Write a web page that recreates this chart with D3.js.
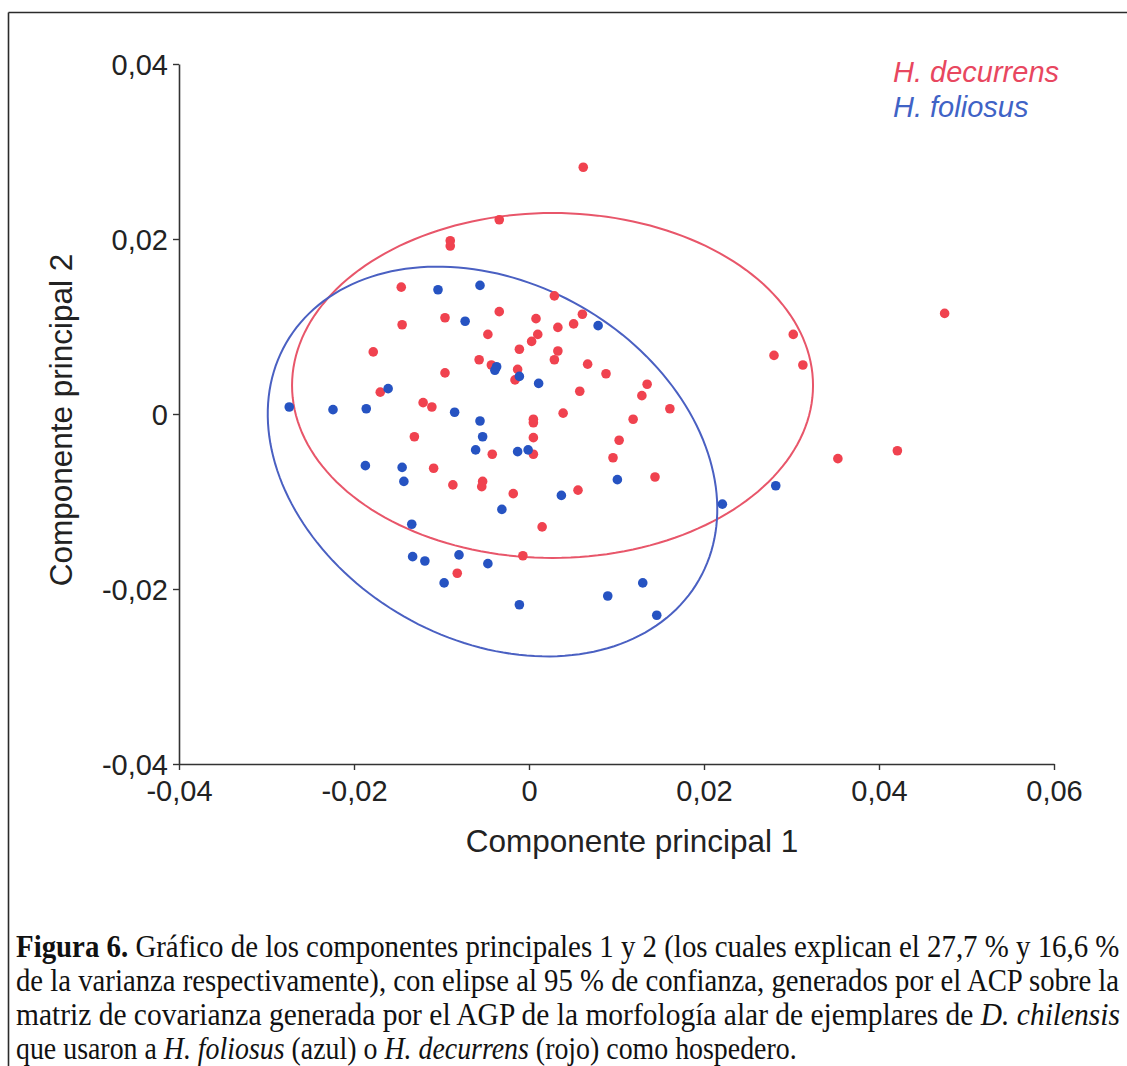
<!DOCTYPE html>
<html><head><meta charset="utf-8">
<script src="https://cdn.jsdelivr.net/npm/d3@7"></script>
<style>html,body{margin:0;padding:0;background:#fff;}svg{display:block;}</style>
</head><body>
<svg id="chart" width="1127" height="1066"></svg>
<script>
// ---- data ----
const xTicks = [-0.04, -0.02, 0, 0.02, 0.04, 0.06];
const yTicks = [-0.04, -0.02, 0, 0.02, 0.04];
const xTickLabels = ["-0,04", "-0,02", "0", "0,02", "0,04", "0,06"];
const yTickLabels = ["-0,04", "-0,02", "0", "0,02", "0,04"];
const seriesNames = ["H. decurrens", "H. foliosus"];

const decurrens = [
  [0.0062,0.0282],[-0.0034,0.0222],[-0.0090,0.0198],[-0.0090,0.0192],[-0.0146,0.0145],
  [0.0029,0.0135],[-0.0034,0.0117],[-0.0096,0.0110],[0.0008,0.0109],[0.0061,0.0114],
  [0.0051,0.0103],[0.0033,0.0099],[-0.0145,0.0102],[-0.0047,0.0091],[0.0010,0.0091],
  [0.0003,0.0083],[-0.0178,0.0071],[-0.0011,0.0074],[0.0033,0.0072],[0.0029,0.0062],
  [-0.0057,0.0062],[0.0067,0.0057],[-0.0043,0.0056],[-0.0013,0.0051],[-0.0096,0.0047],
  [-0.0016,0.0039],[0.0058,0.0026],[-0.0170,0.0025],[-0.0121,0.0013],[-0.0111,0.0008],
  [0.0039,0.0001],[0.0005,-0.0006],[0.0005,-0.0010],[0.0088,0.0046],[0.0135,0.0034],
  [0.0129,0.0021],[0.0161,0.0006],[0.0119,-0.0006],[0.0103,-0.0030],[0.0302,0.0091],
  [0.0280,0.0067],[0.0313,0.0056],[0.0475,0.0115],[0.0353,-0.0051],[0.0421,-0.0042],
  [-0.0131,-0.0026],[0.0005,-0.0027],[-0.0042,-0.0046],[0.0005,-0.0046],[-0.0109,-0.0062],
  [-0.0087,-0.0081],[-0.0053,-0.0077],[-0.0054,-0.0083],[-0.0018,-0.0091],[0.0056,-0.0087],
  [0.0015,-0.0129],[-0.0007,-0.0162],[-0.0082,-0.0182],[0.0096,-0.0050],[0.0144,-0.0072]
];
const foliosus = [
  [-0.0104,0.0142],[-0.0056,0.0147],[-0.0073,0.0106],[0.0079,0.0101],[-0.0037,0.0054],
  [-0.0039,0.0050],[-0.0011,0.0043],[0.0011,0.0035],[-0.0161,0.0029],[-0.0274,0.0008],
  [-0.0224,0.0005],[-0.0186,0.0006],[-0.0085,0.0002],[-0.0056,-0.0008],[-0.0053,-0.0026],
  [-0.0061,-0.0041],[-0.0013,-0.0043],[-0.0001,-0.0041],[-0.0187,-0.0059],[-0.0145,-0.0061],
  [-0.0143,-0.0077],[0.0037,-0.0093],[-0.0031,-0.0109],[-0.0134,-0.0126],[-0.0133,-0.0163],
  [-0.0119,-0.0168],[-0.0080,-0.0161],[-0.0047,-0.0171],[-0.0097,-0.0193],[-0.0011,-0.0218],
  [0.0101,-0.0075],[0.0221,-0.0103],[0.0282,-0.0082],[0.0130,-0.0193],[0.0090,-0.0208],
  [0.0146,-0.0230]
];
// 95% ellipses: [centerX, centerY, semiMajor, semiMinor, angleDeg]
const ellipseDecurrens = [0.00269, 0.00326, 0.02977, 0.01971, 0];
const ellipseFoliosus  = [-0.00417, -0.00543, 0.0272, 0.0204, -29.8];

const captionLines = [
  [["Figura 6.","b"],[" Gráfico de los componentes principales 1 y 2 (los cuales explican el 27,7 % y 16,6 %","n"]],
  [["de la varianza respectivamente), con elipse al 95 % de confianza, generados por el ACP sobre la","n"]],
  [["matriz de covarianza generada por el AGP de la morfología alar de ejemplares de ","n"],["D. chilensis","i"]],
  [["que usaron a ","n"],["H. foliosus","i"],[" (azul) o ","n"],["H. decurrens","i"],[" (rojo) como hospedero.","n"]]
];

// ---- drawing ----
const svg = d3.select("#chart");
svg.append("rect").attr("width",1127).attr("height",1066).attr("fill","#fff");

const frameColor = "#2b2b2b";
svg.append("line").attr("x1",8.5).attr("x2",1127).attr("y1",12.5).attr("y2",12.5)
  .attr("stroke",frameColor).attr("stroke-width",1.6);
svg.append("line").attr("x1",8.5).attr("x2",8.5).attr("y1",12.5).attr("y2",1066)
  .attr("stroke",frameColor).attr("stroke-width",1.6);

const x = d3.scaleLinear().domain([-0.04,0.06]).range([179,1054]);
const y = d3.scaleLinear().domain([-0.04,0.04]).range([764,64]);

const axisColor = "#333";
const font = "'Liberation Sans', Arial, sans-serif";

const gx = svg.append("g").attr("transform","translate(0,764)")
  .call(d3.axisBottom(x).tickValues(xTicks).tickFormat((d,i)=>xTickLabels[i]).tickSize(6).tickSizeOuter(0));
gx.select(".domain").attr("stroke",axisColor).attr("stroke-width",1.6);
gx.selectAll(".tick line").attr("stroke",axisColor).attr("stroke-width",1.4);
gx.selectAll(".tick text").attr("font-family",font).attr("font-size",29).attr("fill","#222")
  .attr("y",37).attr("dy",0);

const gy = svg.append("g").attr("transform","translate(179,0)")
  .call(d3.axisLeft(y).tickValues(yTicks).tickFormat((d,i)=>yTickLabels[i]).tickSize(6).tickSizeOuter(0));
gy.select(".domain").attr("stroke",axisColor).attr("stroke-width",1.6);
gy.selectAll(".tick line").attr("stroke",axisColor).attr("stroke-width",1.4);
gy.selectAll(".tick text").attr("font-family",font).attr("font-size",29).attr("fill","#222")
  .attr("x",-11).attr("dy","0.36em");

svg.append("text").attr("x",632).attr("y",852).attr("text-anchor","middle")
  .attr("font-family",font).attr("font-size",31.5).attr("fill","#222").text("Componente principal 1");
svg.append("text").attr("transform","translate(72,420) rotate(-90)").attr("text-anchor","middle")
  .attr("font-family",font).attr("font-size",31.5).attr("fill","#222").text("Componente principal 2");

// ellipses
function ellipsePts(e){
  const [cx,cy,a,b,ang] = e, th = ang*Math.PI/180;
  return d3.range(0,361,2).map(t=>{
    const r=t*Math.PI/180;
    return [cx + a*Math.cos(r)*Math.cos(th) - b*Math.sin(r)*Math.sin(th),
            cy + a*Math.cos(r)*Math.sin(th) + b*Math.sin(r)*Math.cos(th)];
  });
}
const line = d3.line().x(d=>x(d[0])).y(d=>y(d[1])).curve(d3.curveLinearClosed);
svg.append("path").attr("d",line(ellipsePts(ellipseDecurrens))).attr("fill","none")
  .attr("stroke","#e8566a").attr("stroke-width",2);
svg.append("path").attr("d",line(ellipsePts(ellipseFoliosus))).attr("fill","none")
  .attr("stroke","#4a60c2").attr("stroke-width",2);

const red = "#f0424f", blue = "#2653c2";
svg.append("g").selectAll("circle").data(decurrens).join("circle")
  .attr("cx",d=>x(d[0])).attr("cy",d=>y(d[1])).attr("r",4.8).attr("fill",red);
svg.append("g").selectAll("circle").data(foliosus).join("circle")
  .attr("cx",d=>x(d[0])).attr("cy",d=>y(d[1])).attr("r",4.8).attr("fill",blue);

// legend
svg.append("text").attr("x",893).attr("y",82).attr("font-family",font).attr("font-style","italic")
  .attr("font-size",29).attr("fill","#e8475f").text(seriesNames[0]);
svg.append("text").attr("x",893).attr("y",117).attr("font-family",font).attr("font-style","italic")
  .attr("font-size",29).attr("fill","#3f63c6").text(seriesNames[1]);

// caption
const capBase = [957, 991, 1025, 1059];
const capWidth = [1104, 1104, 1104, 781];
const serif = "'Liberation Serif', 'Times New Roman', serif";
captionLines.forEach((segs,i)=>{
  const g = svg.append("g");
  const t = g.append("text").attr("x",0).attr("y",0).attr("font-family",serif)
    .attr("font-size",31).attr("fill","#111");
  segs.forEach(s=>{
    const ts = t.append("tspan").text(s[0]);
    if(s[1]==="b") ts.attr("font-weight","bold");
    if(s[1]==="i") ts.attr("font-style","italic");
  });
  t.attr("xml:space","preserve").style("white-space","pre");
  const w = t.node().getComputedTextLength();
  g.attr("transform",`translate(16,${capBase[i]}) scale(${capWidth[i]/w},1)`);
});
</script>
</body></html>
